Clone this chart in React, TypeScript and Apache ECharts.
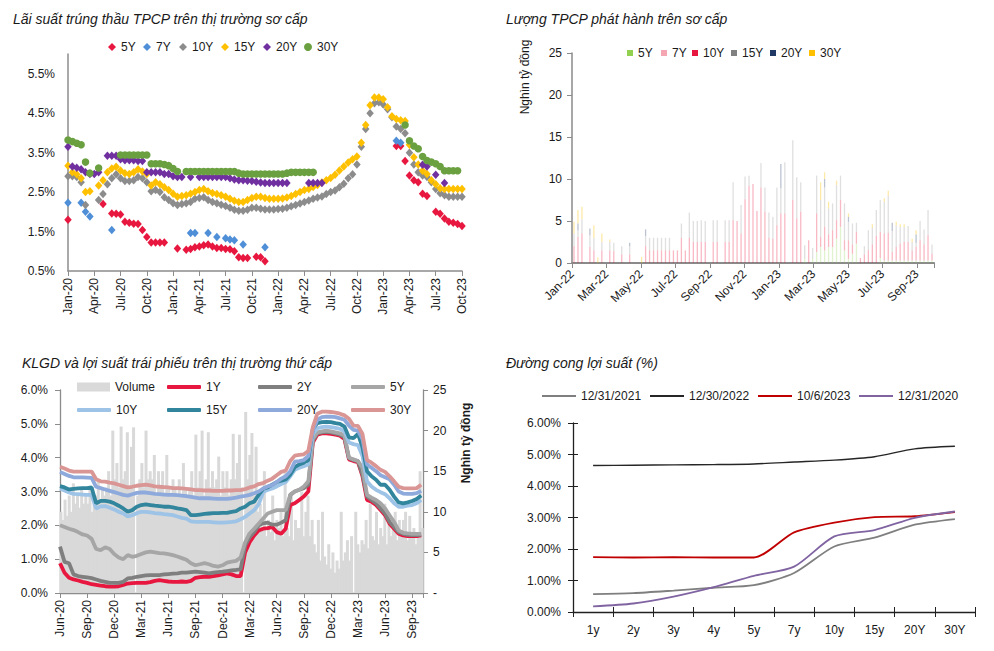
import React, { useEffect, useRef } from 'react';
import * as echarts from 'echarts';

const FONT = '"Liberation Sans", Arial, sans-serif';
const INK = '#1a1a1a';
const AXIS = '#8c8c8c';
const LBL = 12;

// ---------------- Panel 1: primary auction yields (half-month steps from Jan-20) ----------------
const p1Title = 'Lãi suất trúng thầu TPCP trên thị trường sơ cấp';
const p1TickLabels = ['Jan-20', 'Apr-20', 'Jul-20', 'Oct-20', 'Jan-21', 'Apr-21', 'Jul-21', 'Oct-21', 'Jan-22', 'Apr-22', 'Jul-22', 'Oct-22', 'Jan-23', 'Apr-23', 'Jul-23', 'Oct-23'];
const p1Step = 0.5;
const _ = null;
const p1Y5 = [
  1.8, _, _, _, _, _, _, _, 2.2, _,
  1.96, 1.95, 1.93, 1.75, 1.72, 1.7, 1.69, 1.54, 1.36, 1.22,
  1.22, 1.22, 1.22, _, _, 1.07, _, 1.04, 1.06, 1.1,
  1.12, 1.15, 1.17, 1.12, 1.08, 1.08, 1.06, 1.05, 1.0, 0.85,
  0.83, 0.83, _, 0.86, 0.85, 0.75, _, _, _, _,
  _, _, _, _, _, _, _, _, _, _,
  _, _, _, _, _, _, _, _, _, _,
  _, _, _, _, _, 3.67, 3.67, 3.29, 2.92, 2.8,
  2.75, 2.46, 2.4, _, 2.0, 1.95, 1.83, 1.75, 1.72, 1.69, 1.64,
];
const p1Y7 = [
  2.23, _, _, 2.23, 2.0, 1.88, _, _, _, _,
  1.54, _, _, _, _, _, _, _, _, _,
  _, _, _, _, _, _, _, _, 1.46, 1.46,
  _, _, 1.46, _, 1.36, _, 1.33, 1.3, 1.28, _,
  1.17, _, _, _, _, 1.1, _, _, _, _,
  _, _, _, _, _, _, _, _, _, _,
  _, _, _, _, _, _, _, _, _, _,
  _, _, _, _, _, 3.8, 3.75, _, _, _,
  _, _, _, _, _, _, _, _, _, _, _,
];
const p1Y10 = [
  2.9, 2.9, 2.88, 2.75, 2.17, _, _, 2.3, 2.45, 2.7,
  2.85, 2.95, 2.85, 2.78, 2.78, 2.8, 2.88, 2.85, 2.75, 2.52,
  2.55, 2.5, 2.37, 2.3, 2.22, 2.17, 2.2, 2.22, 2.25, 2.33,
  2.35, 2.37, 2.3, 2.25, 2.22, 2.18, 2.15, 2.1, 2.05, 2.03,
  2.03, 2.05, 2.1, 2.1, 2.08, 2.06, 2.06, 2.06, 2.07, 2.08,
  2.1, 2.14, 2.17, 2.21, 2.25, 2.29, 2.33, 2.36, 2.39, 2.45,
  2.5, 2.54, 2.62, 2.71, 2.85, 2.95, 3.2, 3.65, 4.1, 4.5,
  4.75, 4.78, 4.72, 4.6, 4.4, 4.16, 4.1, 3.99, 3.5, 3.2,
  3.0, 2.92, 2.88, 2.75, 2.58, 2.47, 2.42, 2.38, 2.38, 2.38, 2.38,
];
const p1Y15 = [
  3.17, 3.0, 2.95, 2.85, 2.5, 2.52, _, 2.67, 2.8, 3.0,
  3.1, 3.14, 3.05, 2.98, 2.96, 3.0, 3.08, 3.02, 2.96, 2.67,
  2.75, 2.7, 2.62, 2.55, 2.46, 2.38, 2.4, 2.42, 2.46, 2.5,
  2.55, 2.58, 2.52, 2.48, 2.45, 2.42, 2.38, 2.33, 2.28, 2.25,
  2.25, 2.3, 2.35, 2.38, 2.38, 2.35, 2.33, 2.33, 2.33, 2.34,
  2.36, 2.4, 2.45, 2.5, 2.55, 2.58, 2.63, 2.68, 2.74, 2.8,
  2.86, 2.94, 3.05, 3.15, 3.25, 3.33, 3.4, 3.75, 4.2, 4.7,
  4.9, 4.9, 4.85, 4.65, 4.42, 4.35, 4.32, 4.3, 3.7, 3.38,
  3.2, 3.04, 2.96, 2.8, 2.7, 2.6, 2.58, 2.58, 2.58, 2.58, 2.58,
];
const p1Y20 = [
  3.65, 3.15, 3.12, 3.08, 3.0, 2.96, 2.96, 3.0, _, 3.42,
  3.42, 3.42, 3.33, 3.31, 3.31, 3.31, 3.29, 3.29, 3.0, 3.0,
  3.0, 3.0, 2.96, 2.96, 2.9, 2.88, 2.88, _, 2.88, _,
  2.88, 2.88, 2.88, 2.88, 2.88, 2.88, 2.88, 2.85, 2.82, 2.8,
  2.8, 2.79, 2.78, 2.76, 2.74, 2.73, 2.73, 2.73, 2.73, 2.73,
  2.73, _, _, _, _, 2.73, 2.73, 2.73, 2.73, _,
  _, _, _, _, _, _, _, _, _, _,
  _, _, _, _, _, _, _, _, _, _,
  _, 3.19, 3.15, _, 2.94, _, 2.73, _, _, _, _,
];
const p1Y30 = [
  3.82, 3.78, 3.74, 3.7, 3.26, 2.98, _, 3.11, _, _,
  _, _, 3.44, 3.44, 3.44, 3.44, 3.44, 3.44, 3.44, 3.22,
  3.22, 3.22, 3.2, 3.17, 3.1, 3.02, _, 3.02, 3.02, 3.02,
  3.02, 3.02, 3.02, 3.02, 3.02, 3.02, 3.02, 3.02, 3.02, 2.98,
  2.96, 2.96, 2.96, 2.96, 2.96, 2.96, 2.96, 2.96, 2.96, 2.96,
  2.98, 3.0, 3.0, 3.0, 3.0, 3.0, 3.0, _, _, _,
  _, _, _, _, _, _, _, _, _, _,
  _, _, _, _, _, _, _, 4.2, 3.8, 3.67,
  3.6, 3.4, 3.3, 3.26, 3.22, 3.15, 3.04, 3.04, 3.04, 3.04, _,
];

// ---------------- Panel 2: weekly issuance (91 weeks from early Jan 2022) ----------------
const p2Title = 'Lượng TPCP phát hành trên sơ cấp';
const p2TickLabels = ['Jan-22', 'Mar-22', 'May-22', 'Jul-22', 'Sep-22', 'Nov-22', 'Jan-23', 'Mar-23', 'May-23', 'Jul-23', 'Sep-23'];
const p2Y5 = [
  0, 0, 0, 0, 0, 0, 0, 0, 0, 0,
  0, 0, 0, 0, 0, 0, 0, 0, 0, 0,
  0, 0, 0, 0, 0, 0, 0, 0, 0, 0,
  0, 0, 0, 0, 0, 0, 0, 0, 0, 0,
  0, 0, 0, 0, 0, 0, 0, 0, 0, 0,
  0, 0, 0, 0, 0, 0, 0, 0, 0.5, 0,
  0.5, 1.3, 1.9, 1.5, 1.9, 1.9, 2.9, 4.3, 1.5, 0.5,
  1.1, 2.3, 0, 0, 0, 0, 0, 0.6, 0.3, 0.3,
  0.3, 0.3, 0.3, 0.3, 0.3, 0.3, 0.3, 0.3, 0.3, 0.3, 0.3,
];
const p2Y7 = [
  0, 0, 0, 0, 0, 0, 0, 0, 0, 0,
  0, 0, 0, 0, 0, 0, 0, 0, 0, 0,
  0, 0, 0, 0, 0, 0, 0, 0, 0, 0,
  0, 0, 0, 0, 0, 0, 0, 0, 0, 0,
  0, 0, 0, 0, 0, 0, 0, 0, 0, 0,
  0, 0, 0, 0, 0, 0, 0, 0, 0, 0,
  0, 0, 0, 0, 0, 0, 0, 0, 0, 0,
  0, 0, 0, 0, 0, 0, 0, 0, 0, 0,
  0, 0, 0, 0, 0, 0, 0, 0, 0, 0, 0,
];
const p2Y10 = [
  2.0, 3.1, 3.5, 0, 1.9, 1.5, 0, 1.5, 0, 1.5,
  1.4, 0, 1.0, 0, 1.0, 0, 0, 0, 2.0, 1.5,
  1.5, 1.5, 1.5, 1.5, 1.5, 1.5, 1.5, 3.0, 1.5, 3.0,
  2.5, 2.5, 2.5, 2.5, 0, 2.5, 2.5, 0, 2.5, 2.5,
  5.1, 5.0, 3.5, 7.6, 9.2, 9.4, 6.2, 9.0, 6.1, 3.0,
  2.9, 4.5, 5.9, 5.9, 0, 7.5, 5.3, 6.1, 0, 2.7,
  0, 4.6, 1.2, 2.8, 1.5, 2.0, 2.2, 3.2, 1.2, 2.2,
  1.1, 1.4, 0.6, 1.0, 1.5, 2.2, 3.2, 3.1, 3.2, 3.3,
  1.0, 1.6, 2.0, 2.2, 2.2, 1.2, 1.6, 2.4, 1.9, 3.0, 0.8,
];
const p2Y15 = [
  1.5, 0.8, 1.7, 0, 1.4, 1.5, 0, 1.0, 0, 1.0,
  1.0, 0, 1.0, 0, 1.0, 0, 0, 0, 1.2, 1.5,
  1.5, 1.5, 1.5, 1.5, 1.5, 0, 0, 1.7, 0, 3.0,
  2.5, 2.5, 2.6, 2.5, 0, 2.6, 2.6, 0, 2.6, 2.6,
  4.5, 0, 3.4, 2.7, 1.2, 0, 0, 2.9, 2.9, 3.0,
  2.6, 4.5, 3.0, 6.1, 0, 7.1, 4.9, 3.5, 1.6, 0,
  1.3, 4.5, 4.4, 4.7, 3.1, 3.2, 4.2, 2.9, 4.4, 2.2,
  2.5, 1.1, 0, 1.0, 2.4, 2.0, 3.1, 3.8, 3.8, 4.4,
  2.5, 2.6, 2.0, 1.8, 1.9, 1.0, 0.5, 2.3, 1.8, 3.0, 1.1,
];
const p2Y20 = [
  0, 0.8, 0, 0, 0.8, 0, 0, 0, 0, 0,
  0, 0, 0, 0, 0.4, 0, 0, 0, 0.8, 0,
  0, 0, 0, 0, 0, 0, 0, 0, 0, 0,
  0, 0, 0, 0, 0, 0, 0, 0, 0, 0,
  0, 0, 0, 0, 0, 0, 0, 0, 0, 0,
  0, 0, 2.9, 0, 0, 0, 0, 0, 0, 0,
  0, 0, 0, 1.0, 0, 0, 0, 0, 0, 0.6,
  0, 0, 0, 0, 0, 0, 0, 0, 0, 0,
  1.0, 0, 0, 0, 0, 0, 1.0, 0, 0, 0, 0,
];
const p2Y30 = [
  1.4, 1.6, 1.5, 0, 0, 1.5, 0.65, 1.0, 0, 0.3,
  0, 0, 0, 0, 0, 0, 0, 0.75, 0, 0,
  0, 0, 0, 0, 0, 0, 0, 0, 0, 0,
  0, 0, 0, 0, 0, 0, 0, 0, 0, 0,
  0, 0, 0, 0, 0, 0, 0, 0, 0, 0,
  0, 0, 0, 0, 0, 0, 0, 0, 0, 0,
  0, 0, 2.1, 0.8, 0.8, 0, 0.5, 0, 0, 0.4,
  0, 0, 0, 0, 0, 0.4, 0, 0, 0.4, 0.6,
  0, 0.4, 0.3, 0.3, 0, 0.4, 0.5, 0, 0, 0, 0,
];
const p2Weeks = p2Y10.map((_v, k) => 'W' + (k + 1));

// ---------------- Panel 3: secondary market (half-month steps from Jun-20; weekly volume) ----------------
const p3Title = 'KLGD và lợi suất trái phiếu trên thị trường thứ cấp';
const p3TickLabels = ['Jun-20', 'Sep-20', 'Dec-20', 'Mar-21', 'Jun-21', 'Sep-21', 'Dec-21', 'Mar-22', 'Jun-22', 'Sep-22', 'Dec-22', 'Mar-23', 'Jun-23', 'Sep-23'];
const p3Step = 0.5;
const p3VolFirstDay = 3;
const p3Volume = [
  10, 9, 11.5, 9.5,
  12, 10, 13.5, 11,
  12, 10.5, 13, 11, 12,
  11, 13, 10, 12,
  12, 14, 11, 13, 12,
  13, 15, 12, 20,
  14, 16, 13, 20.5, 14,
  15, 19.8, 13, 18,
  20.4, 0, 12, 14,
  16, 13, 20, 14, 15,
  14, 17, 12, 15,
  13, 15, 12, 17, 13,
  12, 14, 13, 12,
  14, 12, 16, 13, 12,
  13, 15, 12, 19.5,
  13, 15, 20, 12,
  14, 19.8, 13, 15, 13,
  14, 16.8, 12, 15,
  13, 15, 12, 14, 19.6,
  14, 16, 19.5, 13,
  0, 22.3, 14, 17,
  19.7, 12, 18, 10, 11,
  8, 15, 7, 9,
  7.5, 12, 6.5, 9, 8,
  10, 7, 15, 8,
  7, 12, 6.5, 9, 8,
  8, 12.5, 7, 10,
  12, 7, 9, 6,
  5, 9, 4, 10, 4.5,
  3.5, 6, 3, 5,
  2.5, 4, 3, 10, 4,
  5, 6.5, 4, 7,
  0, 10, 6, 5, 6.5,
  6, 9, 5.5, 11,
  7, 6.5, 10, 6, 8,
  7, 11, 6, 9,
  7, 8, 10, 6.5,
  9, 7, 9, 10,
  6.5, 9.5, 7, 8,
  6, 7, 15, 8,
];
const p3Y1 = [
  0.88, 0.6, 0.45, 0.4, 0.37, 0.33, 0.3, 0.26, 0.24, 0.22,
  0.2, 0.19, 0.19, 0.2, 0.24, 0.28, 0.29, 0.3, 0.3, 0.3,
  0.32, 0.36, 0.38, 0.36, 0.34, 0.33, 0.33, 0.34, 0.33, 0.36,
  0.45, 0.47, 0.48, 0.48, 0.5, 0.52, 0.55, 0.58, 0.55, 0.5,
  0.5, 1.2, 1.5, 1.7, 1.85, 1.9, 1.92, 1.95, 1.8, 1.75,
  1.9, 2.6, 2.65, 2.75, 2.85, 3.0, 4.45, 4.68, 4.72, 4.72,
  4.7, 4.68, 4.65, 4.55, 3.95, 3.9, 3.87, 3.45, 2.75, 2.7,
  2.6, 2.45, 2.3, 2.05, 1.9, 1.75, 1.7, 1.68, 1.68, 1.68, 1.7,
];
const p3Y2 = [
  1.37, 0.92, 0.88, 0.55, 0.5, 0.48, 0.46, 0.44, 0.4, 0.36,
  0.33, 0.3, 0.3, 0.3, 0.33, 0.43, 0.45, 0.48, 0.5, 0.52,
  0.53, 0.53, 0.53, 0.55, 0.56, 0.57, 0.58, 0.6, 0.6, 0.62,
  0.63, 0.62, 0.6, 0.58, 0.6, 0.62, 0.63, 0.65, 0.67, 0.68,
  0.7, 1.4, 1.65, 1.8, 2.0, 2.06, 2.08, 2.02, 2.02, 2.08,
  2.15, 2.9, 3.0, 3.05, 3.1, 3.2, 4.5, 4.72, 4.75, 4.76,
  4.75, 4.72, 4.68, 4.6, 3.98, 3.93, 3.9, 3.5, 2.85, 2.75,
  2.65, 2.5, 2.35, 2.1, 1.95, 1.8, 1.75, 1.72, 1.71, 1.71, 1.72,
];
const p3Y5 = [
  2.0, 1.95, 1.9, 1.86, 1.8, 1.73, 1.7, 1.6, 1.3, 1.27,
  1.35, 1.3, 1.15, 1.05, 1.0, 1.12, 1.07, 1.1, 1.15, 1.2,
  1.22, 1.2, 1.18, 1.17, 1.15, 1.12, 1.08, 1.03, 0.98, 0.88,
  0.82, 0.85, 0.88, 0.85, 0.8, 0.78, 0.82, 0.9, 0.93, 0.95,
  1.05, 1.5, 1.76, 1.9, 2.05, 2.2, 2.35, 2.4, 2.45, 2.45,
  2.45, 2.9, 3.0, 3.05, 3.15, 3.3, 4.55, 4.75, 4.78, 4.8,
  4.78, 4.75, 4.72, 4.65, 4.0, 3.95, 3.9, 3.7, 2.9, 2.82,
  2.75, 2.65, 2.5, 2.3, 2.1, 1.85, 1.78, 1.76, 1.75, 1.75, 1.75,
];
const p3Y10 = [
  3.09, 3.03, 2.97, 2.93, 2.92, 2.91, 2.9, 2.9, 2.5, 2.56,
  2.57, 2.52, 2.47, 2.4, 2.35, 2.26, 2.3, 2.36, 2.4, 2.4,
  2.38, 2.36, 2.35, 2.33, 2.32, 2.3, 2.26, 2.22, 2.2, 2.12,
  2.1, 2.1, 2.1, 2.1, 2.09, 2.08, 2.08, 2.09, 2.1, 2.12,
  2.18, 2.25, 2.35, 2.45, 2.62, 2.98, 3.05, 3.09, 3.15, 3.22,
  3.28, 3.45, 3.64, 3.7, 3.75, 3.8, 4.7, 4.87, 4.9, 4.92,
  4.9, 4.88, 4.85, 4.78, 4.45, 4.4, 4.37, 4.05, 3.3, 3.15,
  3.05, 2.98, 2.92, 2.8, 2.65, 2.55, 2.55, 2.58, 2.6, 2.65, 2.75,
];
const p3Y15 = [
  3.16, 3.12, 3.06, 3.08, 3.09, 3.1, 3.1, 3.12, 2.65, 2.72,
  2.72, 2.7, 2.65, 2.58, 2.5, 2.4, 2.45, 2.55, 2.6, 2.62,
  2.6, 2.58, 2.57, 2.55, 2.55, 2.53, 2.5, 2.48, 2.45, 2.3,
  2.3, 2.32, 2.34, 2.35, 2.36, 2.36, 2.37, 2.37, 2.4, 2.42,
  2.5, 2.55, 2.65, 2.7, 2.9, 3.08, 3.12, 3.2, 3.28, 3.32,
  3.36, 3.5, 3.72, 3.8, 3.85, 3.93, 4.85, 5.02, 5.05, 5.06,
  5.05, 5.02, 5.0, 4.92, 4.6, 4.58, 4.7, 4.3, 3.6, 3.45,
  3.35, 3.2, 3.2, 3.05, 2.85, 2.68, 2.65, 2.68, 2.72, 2.78, 2.88,
];
const p3Y20 = [
  3.58, 3.52, 3.46, 3.42, 3.42, 3.42, 3.41, 3.4, 3.14, 3.1,
  3.06, 3.02, 2.98, 2.94, 2.9, 2.88, 2.92, 2.96, 2.97, 2.97,
  2.95, 2.93, 2.92, 2.91, 2.9, 2.9, 2.89, 2.88, 2.86, 2.84,
  2.82, 2.8, 2.8, 2.8, 2.79, 2.78, 2.78, 2.78, 2.8, 2.82,
  2.85, 2.87, 2.9, 2.95, 3.0, 3.09, 3.15, 3.19, 3.28, 3.38,
  3.45, 3.6, 3.88, 3.9, 3.93, 4.05, 4.8, 5.12, 5.2, 5.21,
  5.21, 5.2, 5.16, 5.12, 4.95, 4.82, 4.8, 4.55, 3.8, 3.7,
  3.6, 3.48, 3.42, 3.36, 3.2, 3.0, 2.94, 2.93, 2.93, 2.95, 3.02,
];
const p3Y30 = [
  3.73, 3.68, 3.62, 3.59, 3.59, 3.59, 3.59, 3.59, 3.36, 3.3,
  3.29, 3.26, 3.24, 3.2, 3.16, 3.12, 3.14, 3.17, 3.19, 3.2,
  3.18, 3.15, 3.14, 3.13, 3.12, 3.1, 3.1, 3.09, 3.08, 3.06,
  3.04, 3.04, 3.03, 3.03, 3.02, 3.02, 3.02, 3.03, 3.03, 3.04,
  3.04, 3.07, 3.12, 3.15, 3.22, 3.25, 3.32, 3.38, 3.48, 3.58,
  3.62, 3.9, 4.06, 4.08, 4.1, 4.2, 4.9, 5.3, 5.36, 5.36,
  5.35, 5.33, 5.3, 5.25, 5.15, 4.95, 4.94, 4.7, 3.93, 3.85,
  3.75, 3.64, 3.58, 3.45, 3.3, 3.14, 3.1, 3.09, 3.09, 3.1, 3.2,
];

// ---------------- Panel 4: yield curves ----------------
const p4Title = 'Đường cong lợi suất (%)';
const p4Tenors = ['1y', '2y', '3y', '4y', '5y', '7y', '10y', '15y', '20Y', '30Y'];
const p4Curve2021 = [0.57, 0.6, 0.68, 0.77, 0.85, 1.24, 2.08, 2.36, 2.77, 2.95];
const p4Curve2022 = [4.65, 4.66, 4.67, 4.68, 4.7, 4.76, 4.82, 4.93, 5.18, 5.26];
const p4Curve2023 = [1.74, 1.73, 1.74, 1.73, 1.73, 2.53, 2.84, 3.01, 3.04, 3.17];
const p4Curve2020 = [0.18, 0.27, 0.49, 0.79, 1.15, 1.44, 2.4, 2.6, 2.99, 3.19];

// ---------------- helpers ----------------
const DAYS_PER_MONTH = 30.44;
const pts = (arr: (number | null)[], step: number) =>
  arr.map((v, i) => (v == null ? null : [i * step, v])).filter((p) => p !== null);
const weekly = (arr: number[], firstDay: number) =>
  arr.map((v, k) => [(firstDay + 7 * k) / DAYS_PER_MONTH, v]);
const tickFmt = (labels: string[], every: number) => (v: number) => {
  const q = v / every;
  return Math.abs(q - Math.round(q)) < 1e-6 && labels[Math.round(q)] ? labels[Math.round(q)] : '';
};
const txt = (size = LBL, extra: any = {}) => ({ fontFamily: FONT, fontSize: size, color: INK, ...extra });
const leg = (name: string, left: number, top: number, icon: string, w: number, h: number, color?: string) => ({
  left, top, padding: 0, itemGap: 0, selectedMode: false, icon, itemWidth: w, itemHeight: h,
  textStyle: txt(LBL),
  formatter: (n: string) => n.split('|')[1],
  data: [color ? { name, itemStyle: { color, opacity: 1 } } : { name }],
});
const titleOf = (text: string, left: number, top: number) => ({
  text, left, top, padding: 0,
  textStyle: { fontFamily: FONT, fontSize: 14, fontStyle: 'italic', fontWeight: 'normal', color: INK },
});

export default function App() {
  const ref = useRef<HTMLDivElement>(null);
  useEffect(() => {
    if (!ref.current) return;
    const chart = echarts.init(ref.current, undefined, { renderer: 'svg' });

    const p1Colors: Record<string, string> = { '5Y': '#E8173F', '7Y': '#4F8FD8', '10Y': '#8C8C8C', '15Y': '#FFC000', '20Y': '#7030A0', '30Y': '#6AA040' };
    const p1Data: [string, (number | null)[]][] = [['5Y', p1Y5], ['7Y', p1Y7], ['10Y', p1Y10], ['15Y', p1Y15], ['20Y', p1Y20], ['30Y', p1Y30]];
    const p1Series = p1Data.map(([n, arr]) => ({
      name: 'p1|' + n, type: 'scatter', xAxisIndex: 0, yAxisIndex: 0,
      symbol: n === '30Y' ? 'circle' : 'diamond', symbolSize: n === '30Y' ? 7.5 : [7.5, 8.5],
      itemStyle: { color: p1Colors[n], opacity: 1 }, data: pts(arr, p1Step),
    }));

    const p2Solid: Record<string, string> = { '5Y': '#92D050', '7Y': '#F4A6B2', '10Y': '#E8173F', '15Y': '#808080', '20Y': '#1F3864', '30Y': '#FFC000' };
    const p2Faded: Record<string, string> = { '5Y': 'rgba(146,208,80,0.28)', '7Y': 'rgba(244,166,178,0.5)', '10Y': 'rgba(232,23,63,0.3)', '15Y': 'rgba(128,128,128,0.25)', '20Y': 'rgba(31,56,100,0.3)', '30Y': 'rgba(255,192,0,0.35)' };
    const p2Data: [string, number[]][] = [['5Y', p2Y5], ['7Y', p2Y7], ['10Y', p2Y10], ['15Y', p2Y15], ['20Y', p2Y20], ['30Y', p2Y30]];
    const p2Series = p2Data.map(([n, arr]) => ({
      name: 'p2|' + n, type: 'bar', stack: 'p2', xAxisIndex: 5, yAxisIndex: 1, barWidth: 1.3,
      itemStyle: { color: p2Faded[n] }, data: arr,
    }));

    const p3Colors: Record<string, string> = { '1Y': '#E8173F', '2Y': '#7F7F7F', '5Y': '#A6A6A6', '10Y': '#9DC3E6', '15Y': '#31859C', '20Y': '#8EA9DB', '30Y': '#D99694' };
    const p3Data: [string, number[]][] = [['1Y', p3Y1], ['2Y', p3Y2], ['5Y', p3Y5], ['10Y', p3Y10], ['15Y', p3Y15], ['20Y', p3Y20], ['30Y', p3Y30]];
    const p3Series: any[] = [{
      name: 'p3|Volume', type: 'bar', xAxisIndex: 2, yAxisIndex: 3, barWidth: 3,
      itemStyle: { color: '#D9D9D9' }, data: weekly(p3Volume, p3VolFirstDay),
    }, ...p3Data.map(([n, arr]) => ({
      name: 'p3|' + n, type: 'line', xAxisIndex: 2, yAxisIndex: 2, symbol: 'none',
      lineStyle: { color: p3Colors[n], width: 3.8 }, itemStyle: { color: p3Colors[n] },
      data: pts(arr, p3Step),
    }))];

    const p4Data: [string, number[], string, number][] = [
      ['12/31/2021', p4Curve2021, '#7F7F7F', 1.8],
      ['12/30/2022', p4Curve2022, '#262626', 1.4],
      ['10/6/2023', p4Curve2023, '#C00000', 1.8],
      ['12/31/2020', p4Curve2020, '#8064A2', 1.8],
    ];
    const p4Series = p4Data.map(([n, arr, c, w]) => ({
      name: 'p4|' + n, type: 'line', xAxisIndex: 3, yAxisIndex: 4, symbol: 'none', smooth: 0.25,
      lineStyle: { color: c, width: w }, itemStyle: { color: c }, data: arr,
    }));

    const axLine = (w = 1.3, c = AXIS) => ({ show: true, lineStyle: { color: c, width: w } });

    chart.setOption({
      animation: false,
      backgroundColor: '#ffffff',
      title: [
        titleOf(p1Title, 13, 12),
        titleOf(p2Title, 506, 12),
        titleOf(p3Title, 22, 356),
        titleOf(p4Title, 506, 356),
      ],
      legend: [
        leg('p1|5Y', 108, 41, 'diamond', 8, 8),
        leg('p1|7Y', 143, 41, 'diamond', 8, 8),
        leg('p1|10Y', 179, 41, 'diamond', 8, 8),
        leg('p1|15Y', 221, 41, 'diamond', 8, 8),
        leg('p1|20Y', 263, 41, 'diamond', 8, 8),
        leg('p1|30Y', 304, 41, 'circle', 8, 8),
        leg('p2|5Y', 627, 47, 'rect', 6, 6, p2Solid['5Y']),
        leg('p2|7Y', 661, 47, 'rect', 6, 6, p2Solid['7Y']),
        leg('p2|10Y', 692, 47, 'rect', 6, 6, p2Solid['10Y']),
        leg('p2|15Y', 731, 47, 'rect', 6, 6, p2Solid['15Y']),
        leg('p2|20Y', 770, 47, 'rect', 6, 6, p2Solid['20Y']),
        leg('p2|30Y', 809, 47, 'rect', 6, 6, p2Solid['30Y']),
        leg('p3|Volume', 77, 381, 'rect', 33, 9),
        leg('p3|1Y', 167, 381, 'roundRect', 34, 4),
        leg('p3|2Y', 258, 381, 'roundRect', 34, 4),
        leg('p3|5Y', 351, 381, 'roundRect', 34, 4),
        leg('p3|10Y', 77, 404, 'roundRect', 34, 4),
        leg('p3|15Y', 167, 404, 'roundRect', 34, 4),
        leg('p3|20Y', 258, 404, 'roundRect', 34, 4),
        leg('p3|30Y', 351, 404, 'roundRect', 34, 4),
        leg('p4|12/31/2021', 542, 390, 'rect', 34, 2),
        leg('p4|12/30/2022', 650, 390, 'rect', 34, 2),
        leg('p4|10/6/2023', 758, 390, 'rect', 34, 2),
        leg('p4|12/31/2020', 859, 390, 'rect', 34, 2),
      ],
      grid: [
        { left: 68, top: 54, width: 394, height: 217 },
        { left: 572, top: 53, width: 362, height: 210 },
        { left: 60, top: 390, width: 363, height: 203 },
        { left: 573, top: 423, width: 402, height: 189 },
      ],
      xAxis: [
        {
          gridIndex: 0, type: 'value', min: 0, max: 45, interval: 3,
          axisLine: axLine(1.5), axisTick: { show: true, length: 5, lineStyle: { color: AXIS } },
          axisLabel: { ...txt(), rotate: 90, margin: 7, formatter: tickFmt(p1TickLabels, 3) },
          splitLine: { show: false },
        },
        {
          gridIndex: 1, type: 'value', min: 0, max: 21, interval: 2,
          axisLine: axLine(2, '#8a8a8a'), axisTick: { show: true, length: 5, lineStyle: { color: '#8a8a8a' } },
          axisLabel: { ...txt(), rotate: 45, margin: 9, formatter: tickFmt(p2TickLabels, 2) },
          splitLine: { show: false },
        },
        {
          gridIndex: 2, type: 'value', min: 0, max: 40.2, interval: 3,
          axisLine: axLine(1.3), axisTick: { show: true, length: 5, lineStyle: { color: AXIS } },
          axisLabel: { ...txt(), rotate: 90, margin: 7, formatter: tickFmt(p3TickLabels, 3) },
          splitLine: { show: false },
        },
        {
          gridIndex: 3, type: 'category', data: p4Tenors, boundaryGap: true,
          axisLine: axLine(1.3, '#202020'), axisTick: { show: true, length: 5, lineStyle: { color: '#202020' } },
          axisLabel: { ...txt(), margin: 12 },
        },
        {
          gridIndex: 3, type: 'category', data: p4Tenors, boundaryGap: true, position: 'bottom',
          axisLine: { show: false }, axisTick: { show: true, inside: true, length: 5, lineStyle: { color: '#202020' } },
          axisLabel: { show: false },
        },
        {
          gridIndex: 1, type: 'category', data: p2Weeks, boundaryGap: true, position: 'bottom', show: false,
        },
      ],
      yAxis: [
        {
          gridIndex: 0, type: 'value', min: 0.5, max: 6, interval: 0.5,
          axisLine: axLine(1.5), axisTick: { show: false },
          axisLabel: {
            ...txt(), margin: 13,
            formatter: (v: number) => (Math.round((v - 0.5) * 10) % 10 === 0 && v < 5.9 ? v.toFixed(1) + '%' : ''),
          },
          splitLine: { show: false },
        },
        {
          gridIndex: 1, type: 'value', min: 0, max: 25, interval: 5,
          axisLine: axLine(1.5, '#8a8a8a'), axisTick: { show: true, length: 5, lineStyle: { color: '#8a8a8a' } },
          axisLabel: { ...txt(), margin: 10 },
          splitLine: { show: false },
        },
        {
          gridIndex: 2, type: 'value', min: 0, max: 6, interval: 1, position: 'left',
          axisLine: axLine(1.3), axisTick: { show: true, length: 5, lineStyle: { color: AXIS } },
          axisLabel: { ...txt(), margin: 12, formatter: (v: number) => v.toFixed(1) + '%' },
          splitLine: { show: false },
        },
        {
          gridIndex: 2, type: 'value', min: 0, max: 25, interval: 5, position: 'right',
          axisLine: axLine(1.3), axisTick: { show: true, length: 5, lineStyle: { color: AXIS } },
          axisLabel: { ...txt(), margin: 10, formatter: (v: number) => (v === 0 ? '-' : String(v)) },
          splitLine: { show: false },
        },
        {
          gridIndex: 3, type: 'value', min: 0, max: 6, interval: 1,
          axisLine: axLine(1.3, '#202020'), axisTick: { show: true, length: 5, lineStyle: { color: '#202020' } },
          axisLabel: { ...txt(), margin: 12, formatter: (v: number) => v.toFixed(2) + '%' },
          splitLine: { show: false },
        },
        {
          gridIndex: 3, type: 'value', min: 0, max: 6, interval: 1, position: 'left',
          axisLine: { show: false }, axisTick: { show: true, inside: true, length: 5, lineStyle: { color: '#202020' } },
          axisLabel: { show: false }, splitLine: { show: false },
        },
      ],
      graphic: [
        {
          type: 'text', x: 525, y: 77, rotation: Math.PI / 2,
          style: { text: 'Nghìn tỷ đồng', fill: INK, font: `12px ${FONT}`, textAlign: 'center', textVerticalAlign: 'middle' },
        },
        {
          type: 'text', x: 466, y: 443, rotation: Math.PI / 2,
          style: { text: 'Nghìn tỷ đồng', fill: INK, font: `bold 12px ${FONT}`, textAlign: 'center', textVerticalAlign: 'middle' },
        },
      ],
      series: [...p1Series, ...p2Series, ...p3Series, ...p4Series],
    });
    return () => chart.dispose();
  }, []);
  return <div ref={ref} style={{ position: 'fixed', left: 0, top: 0, width: 994, height: 651, background: '#fff' }} />;
}
